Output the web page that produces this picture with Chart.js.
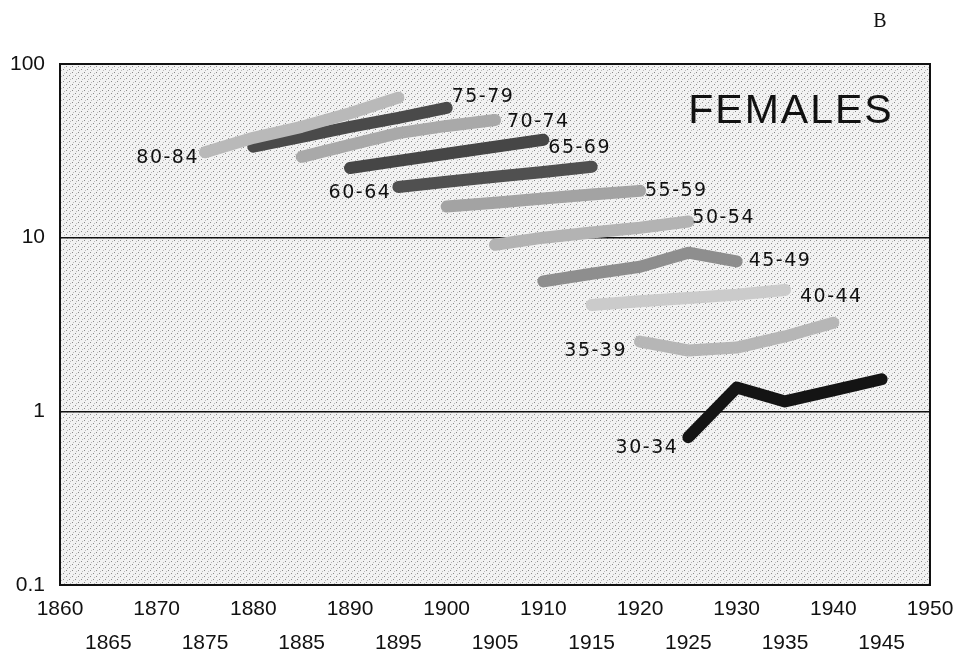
<!DOCTYPE html>
<html>
<head>
<meta charset="utf-8">
<title>Females</title>
<script src="https://cdn.jsdelivr.net/npm/chart.js@4.4.1/dist/chart.umd.min.js"></script>
<style>
  html, body { margin: 0; padding: 0; background: #fff; }
  #chart { display: block; }
</style>
</head>
<body>
<canvas id="chart" width="966" height="655"></canvas>
<script>
// cohorts: first year of each age-group line, 5-year steps
const ageGroups = ['80-84', '75-79', '70-74', '65-69', '60-64', '55-59', '50-54', '45-49', '40-44', '35-39', '30-34'];
const startYears = [1875, 1880, 1885, 1890, 1895, 1900, 1905, 1910, 1915, 1920, 1925];

const rate80 = [31, 37.6, 43.5, 52, 64];
const rate75 = [33.4, 38, 43.5, 49, 55.9];
const rate70 = [29.2, 34.2, 40, 44, 47.6];
const rate65 = [25.2, 27.7, 30.4, 33.4, 36.6];
const rate60 = [19.6, 21, 22.4, 23.9, 25.6];
const rate55 = [15.1, 15.9, 16.8, 17.7, 18.6];
const rate50 = [9.1, 10, 10.7, 11.4, 12.4];
const rate45 = [5.6, 6.2, 6.8, 8.2, 7.3];
const rate40 = [4.1, 4.3, 4.5, 4.7, 5.0];
const rate35 = [2.52, 2.24, 2.33, 2.7, 3.24];
const rate30 = [0.71, 1.37, 1.14, 1.32, 1.53];

const yTicks = [0.1, 1, 10, 100];

const allRates = [rate80, rate75, rate70, rate65, rate60, rate55, rate50, rate45, rate40, rate35, rate30];

// styles
const lineColors = ['#b9b9b9', '#4a4a4a', '#a9a9a9', '#464646', '#505050', '#a3a3a3',
                    '#b3b3b3', '#8e8e8e', '#cbcbcb', '#b6b6b6', '#141414'];
// where each label sits: side of the line and pixel nudge
const labelPlace = [
  { side: 'start', dx: -6, dy: 6 },
  { side: 'end', dx: 5, dy: -11 },
  { side: 'end', dx: 12, dy: 2 },
  { side: 'end', dx: 5, dy: 8 },
  { side: 'start', dx: -7, dy: 6 },
  { side: 'end', dx: 5, dy: 0 },
  { side: 'end', dx: 4, dy: -3 },
  { side: 'end', dx: 12, dy: 0 },
  { side: 'end', dx: 15, dy: 7 },
  { side: 'start', dx: -13, dy: 9 },
  { side: 'start', dx: -10, dy: 11 }
];

const datasets = ageGroups.map((name, i) => ({
  label: name,
  data: allRates[i].map((v, j) => ({ x: startYears[i] + 5 * j, y: v })),
  borderColor: lineColors[i],
  borderWidth: 12,
  borderCapStyle: 'round',
  borderJoinStyle: 'round',
  pointRadius: 0,
  tension: 0,
  fill: false
}));

function makeStipple(ctx) {
  const tile = document.createElement('canvas');
  tile.width = 6; tile.height = 6;
  const t = tile.getContext('2d');
  t.fillStyle = '#f2f2f2';
  t.fillRect(0, 0, 6, 6);
  t.fillStyle = '#8a8a8a';
  t.fillRect(0, 0, 1, 1);
  t.fillRect(3, 3, 1, 1);
  t.fillStyle = '#bdbdbd';
  t.fillRect(4, 1, 1, 1);
  t.fillRect(1, 4, 1, 1);
  return ctx.createPattern(tile, 'repeat');
}

const decor = {
  id: 'decor',
  beforeDraw(chart) {
    const { ctx, chartArea: a } = chart;
    ctx.save();
    ctx.fillStyle = makeStipple(ctx);
    ctx.fillRect(a.left, a.top, a.right - a.left, a.bottom - a.top);
    ctx.restore();
  },
  afterDraw(chart) {
    const { ctx, chartArea: a, scales } = chart;
    ctx.save();
    ctx.strokeStyle = '#111';
    ctx.lineWidth = 2;
    ctx.strokeRect(a.left, a.top, a.right - a.left, a.bottom - a.top);

    // age group labels
    ctx.fillStyle = '#111';
    ctx.font = '19px "DejaVu Sans"';
    ctx.letterSpacing = '1.5px';
    ctx.textBaseline = 'middle';
    ageGroups.forEach((name, i) => {
      const p = labelPlace[i];
      const pts = datasets[i].data;
      const pt = p.side === 'start' ? pts[0] : pts[pts.length - 1];
      const x = scales.x.getPixelForValue(pt.x) + p.dx;
      const y = scales.y.getPixelForValue(pt.y) + p.dy;
      ctx.textAlign = p.side === 'start' ? 'right' : 'left';
      ctx.fillText(name, x, y);
    });

    ctx.font = '41px "Liberation Sans"';
    ctx.letterSpacing = '2px';
    ctx.textAlign = 'center';
    ctx.fillText('FEMALES', 791, 112);

    ctx.letterSpacing = '0px';
    ctx.font = '20px "Liberation Serif"';
    ctx.fillText('B', 880, 22);
    ctx.restore();
  }
};

new Chart(document.getElementById('chart'), {
  type: 'line',
  data: { datasets: datasets },
  plugins: [decor],
  options: {
    responsive: false,
    animation: false,
    layout: { padding: { top: 64, right: 36, left: 0, bottom: 0 } },
    plugins: { legend: { display: false }, tooltip: { enabled: false } },
    scales: {
      x: {
        type: 'linear',
        min: 1860,
        max: 1950,
        afterFit: s => { s.height = 70; },
        grid: { display: false, drawTicks: false },
        border: { display: false },
        ticks: {
          stepSize: 5,
          autoSkip: false,
          maxRotation: 0,
          padding: 7,
          color: '#111',
          font: { family: 'Liberation Sans', size: 21, lineHeight: 1.62 },
          callback: v => (v % 10 === 0 ? [String(v), ''] : ['', String(v)])
        }
      },
      y: {
        type: 'logarithmic',
        min: 0.1,
        max: 100,
        afterFit: s => { s.width = 60; },
        afterBuildTicks: s => { s.ticks = yTicks.map(v => ({ value: v })); },
        grid: { color: '#111', lineWidth: 1.5, drawTicks: false },
        border: { display: false },
        ticks: {
          padding: 15,
          color: '#111',
          font: { family: 'Liberation Sans', size: 21 },
          callback: v => String(v)
        }
      }
    }
  }
});
</script>
</body>
</html>
